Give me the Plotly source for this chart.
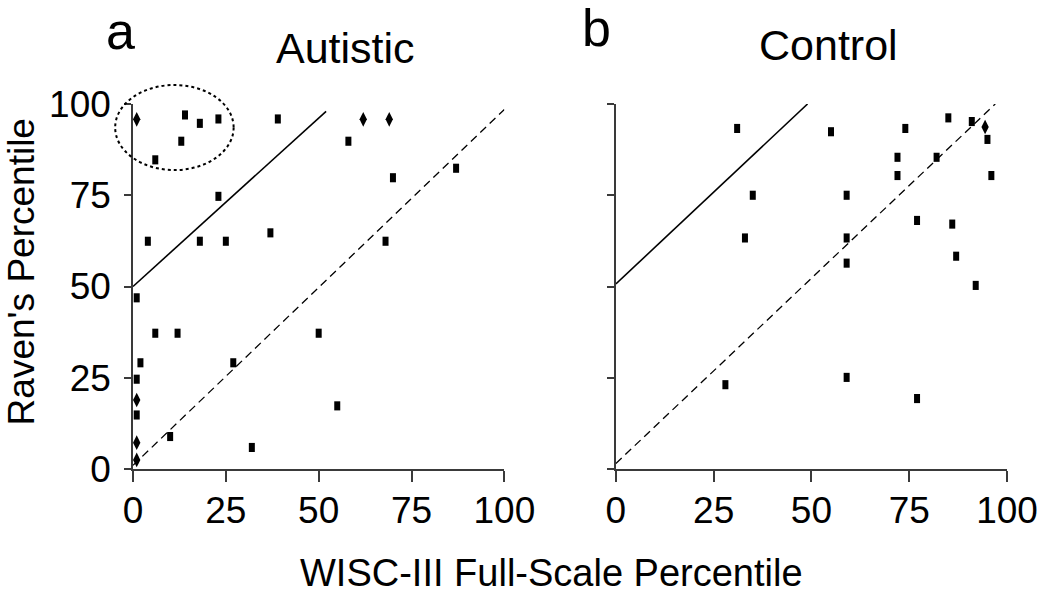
import plotly.graph_objects as go

# ---------------- data ----------------
# Panel a: Autistic
aut_sq_x = [14, 18, 23, 13, 6, 39, 58, 70, 87, 23, 4, 18, 25, 37, 68,
            1, 6, 12, 50, 2, 27, 1, 1, 55, 10, 32]
aut_sq_y = [97, 94.7, 95.9, 89.8, 84.7, 95.9, 89.8, 79.8, 82.4, 74.7, 62.4, 62.4, 62.4, 64.7, 62.4,
            46.9, 37.2, 37.2, 37.2, 29.1, 29.1, 24.6, 14.8, 17.3, 8.9, 5.9]
aut_di_x = [1, 62, 69, 1, 1, 1]
aut_di_y = [95.8, 95.8, 95.8, 18.9, 7.2, 2.5]

# Panel b: Control
con_sq_x = [31, 55, 74, 85, 91, 95, 72, 82, 72, 96, 35, 59, 33, 59, 77, 86, 87, 59,
            92, 28, 59, 77]
con_sq_y = [93.3, 92.4, 93.3, 96.2, 95.2, 90.3, 85.4, 85.4, 80.4, 80.4, 75, 75, 63.3, 63.3,
            68.1, 67.1, 58.3, 56.4, 50.3, 23.1, 25.1, 19.3]
con_di_x = [94.4]
con_di_y = [93.7]

# Reference lines
a_solid_x = [0, 52]
a_solid_y = [50, 98]
a_dash_x = [0, 100]
a_dash_y = [1, 98.5]
b_solid_x = [0, 49]
b_solid_y = [50.7, 100]
b_dash_x = [0, 97]
b_dash_y = [1.5, 100]

tick_vals = [0, 25, 50, 75, 100]
tick_text = ["0", "25", "50", "75", "100"]

FONT = "Liberation Sans, Arial, sans-serif"
AX = "#3a3a3a"

fig = go.Figure()

sq = dict(symbol="line-ns", size=6.5, color="black", line=dict(color="black", width=6))
di = dict(symbol="diamond-tall", size=10.5, color="black", line=dict(width=0))

def add_panel(sx, sy, dx, dy, lx, ly, ldx, ldy, xa, ya):
    fig.add_trace(go.Scatter(x=lx, y=ly, mode="lines", line=dict(color="black", width=1.6),
                             xaxis=xa, yaxis=ya, showlegend=False, hoverinfo="skip"))
    fig.add_trace(go.Scatter(x=ldx, y=ldy, mode="lines",
                             line=dict(color="black", width=1.3, dash="8px,5px"),
                             xaxis=xa, yaxis=ya, showlegend=False, hoverinfo="skip"))
    fig.add_trace(go.Scatter(x=sx, y=sy, mode="markers", marker=sq, cliponaxis=False,
                             xaxis=xa, yaxis=ya, showlegend=False))
    fig.add_trace(go.Scatter(x=dx, y=dy, mode="markers", marker=di, cliponaxis=False,
                             xaxis=xa, yaxis=ya, showlegend=False))

add_panel(aut_sq_x, aut_sq_y, aut_di_x, aut_di_y, a_solid_x, a_solid_y, a_dash_x, a_dash_y, "x", "y")
add_panel(con_sq_x, con_sq_y, con_di_x, con_di_y, b_solid_x, b_solid_y, b_dash_x, b_dash_y, "x2", "y2")

axis_common = dict(range=[0, 100], tickvals=tick_vals, ticktext=tick_text, showgrid=False,
                   zeroline=False, showline=True, linecolor=AX, linewidth=1.5,
                   ticks="outside", tickcolor=AX, tickwidth=1.5,
                   tickfont=dict(family=FONT, size=37, color="black"))

fig.update_layout(
    width=1050, height=595,
    margin=dict(l=133, r=32, t=104, b=126),
    paper_bgcolor="white", plot_bgcolor="white",
    xaxis=dict(domain=[0, 0.4249], anchor="y", ticklen=11, ticklabelstandoff=-3, **axis_common),
    yaxis=dict(domain=[0, 1], anchor="x", ticklen=7, ticklabelstandoff=6, **axis_common),
    xaxis2=dict(domain=[0.5525, 1], anchor="y2", ticklen=11, ticklabelstandoff=-3, **axis_common),
    yaxis2=dict(domain=[0, 1], anchor="x2", ticklen=7, showticklabels=False, **axis_common),
)

# dotted ellipse around the high-Raven cluster
fig.add_shape(type="circle", xref="x domain", yref="y domain",
              x0=-0.048, x1=0.271, y0=0.819, y1=1.052,
              line=dict(color="black", width=2, dash="dot"))

ann = []
def px(xp, yp):
    return ((xp - 133) / 885, (595 - 126 - yp) / (595 - 126 - 104))

def txt(xp, yp, s, size, **kw):
    x, y = px(xp, yp)
    ann.append(dict(x=x, y=y, xref="paper", yref="paper", text=s, showarrow=False,
                    xanchor="center", yanchor="middle",
                    font=dict(family=FONT, size=size, color="black"), **kw))

txt(120, 31, "a", 52)
txt(348, 48, "Autistic", 43)
txt(602, 28, "b", 52)
txt(837, 45, "Control", 43)
txt(557, 573, "WISC-III Full-Scale Percentile", 38)
txt(20, 272, "Raven's Percentile", 37, textangle=-90)
fig.update_layout(annotations=ann)

fig.write_html("out.html", config={"displayModeBar": False},
               post_script="document.body.style.margin='0';")
